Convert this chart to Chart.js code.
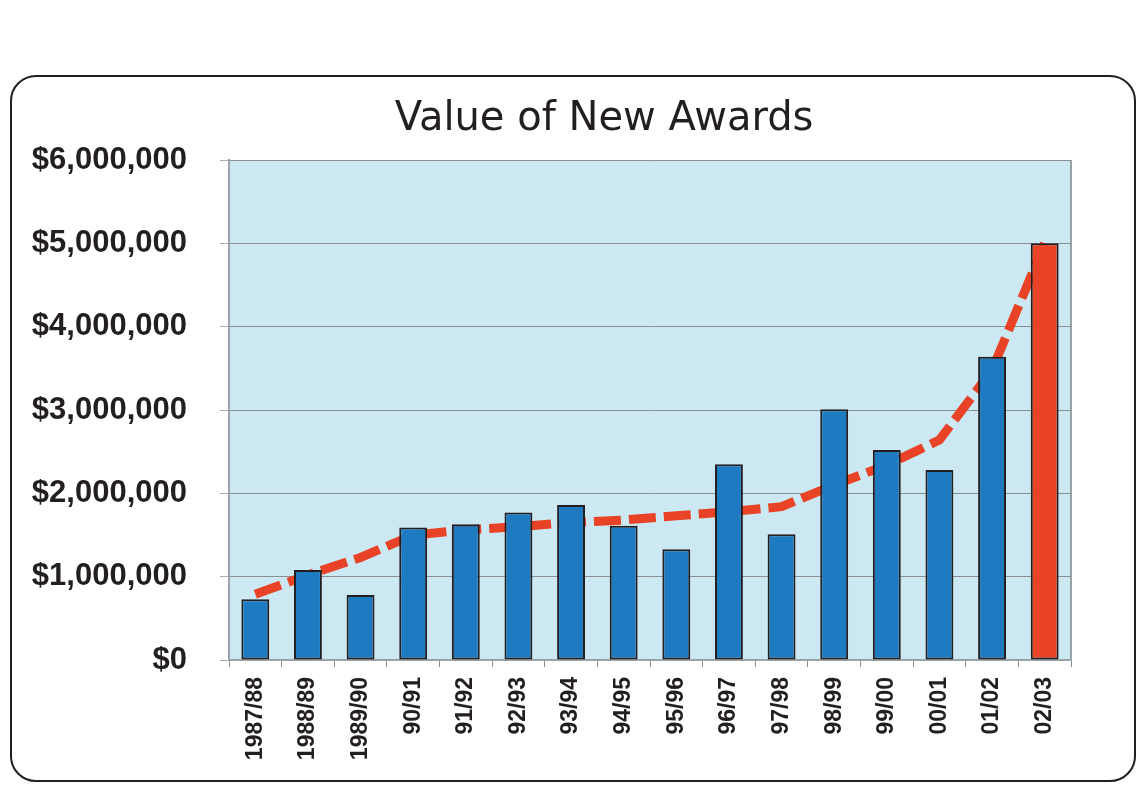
<!DOCTYPE html>
<html>
<head>
<meta charset="utf-8">
<script src="https://cdn.jsdelivr.net/npm/chart.js@4.4.1/dist/chart.umd.min.js"></script>
<style>
  html, body { margin: 0; padding: 0; background: #fff; }
  #frame {
    position: absolute; left: 10px; top: 75px;
    width: 1122px; height: 703px;
    border: 2.5px solid #231f20; border-radius: 26px;
  }
  #wrap { position: absolute; left: 0; top: 0; width: 1145px; height: 790px; }
</style>
</head>
<body>
<div id="frame"></div>
<div id="wrap"><canvas id="awardsChart" width="1145" height="790"></canvas></div>
<script>
// fiscal years
var years = ['1987/88', '1988/89', '1989/90', '90/91', '91/92', '92/93', '93/94', '94/95',
             '95/96', '96/97', '97/98', '98/99', '99/00', '00/01', '01/02', '02/03'];

// value of new awards (bars)
var awardValues = [730000, 1080000, 780000, 1590000, 1630000, 1770000, 1860000, 1610000,
                   1330000, 2350000, 1510000, 3010000, 2520000, 2280000, 3640000, 5000000];

// trend line (dashed red)
var trendValues = [790000, 1020000, 1230000, 1500000, 1560000, 1600000, 1650000, 1680000,
                   1730000, 1780000, 1840000, 2100000, 2340000, 2640000, 3480000, 5000000];

var yTicks = [0, 1000000, 2000000, 3000000, 4000000, 5000000, 6000000];

var chartTitle = 'Value of New Awards';

var blue = '#1f7bc1';
var red = '#e84327';

var barColors = years.map(function(y, i) {
    return i === years.length - 1 ? red : blue;
});

// light blue plot background, right edge of the plot, and the title
var plotBg = {
    id: 'plotBg',
    beforeDraw: function(chart) {
        var a = chart.chartArea;
        var ctx = chart.ctx;
        ctx.save();
        ctx.fillStyle = '#cce8f2';
        ctx.fillRect(a.left, a.top, a.right - a.left, a.bottom - a.top);
        ctx.strokeStyle = '#9aa3a8';
        ctx.lineWidth = 2;
        ctx.beginPath();
        ctx.moveTo(a.right, a.top);
        ctx.lineTo(a.right, a.bottom);
        ctx.stroke();

        ctx.fillStyle = '#231f20';
        ctx.font = '40px "DejaVu Sans", sans-serif';
        ctx.textAlign = 'center';
        ctx.textBaseline = 'middle';
        ctx.fillText(chartTitle, 604, 120);
        ctx.restore();
    }
};

new Chart(document.getElementById('awardsChart'), {
    type: 'bar',
    data: {
        labels: years,
        datasets: [
            {
                type: 'bar',
                data: awardValues,
                backgroundColor: barColors,
                borderColor: '#231f20',
                borderWidth: 2,
                borderSkipped: false,
                categoryPercentage: 1,
                barPercentage: 0.53,
                order: 1
            },
            {
                type: 'line',
                data: trendValues,
                borderColor: red,
                borderWidth: 9,
                borderDash: [27, 8],
                borderCapStyle: 'butt',
                pointRadius: 0,
                tension: 0,
                fill: false,
                order: 2
            }
        ]
    },
    options: {
        responsive: false,
        animation: false,
        layout: { padding: { left: 0, right: 74, top: 160, bottom: 0 } },
        plugins: {
            legend: { display: false },
            tooltip: { enabled: false },
            title: { display: false }
        },
        scales: {
            x: {
                grid: { display: true, drawOnChartArea: false, drawTicks: true, tickLength: 7, color: '#8a8f92', offset: true },
                border: { display: true, color: '#9aa3a8', width: 2 },
                ticks: {
                    color: '#231f20',
                    minRotation: 90,
                    maxRotation: 90,
                    padding: 10,
                    autoSkip: false,
                    font: { family: 'Liberation Sans, Arial, sans-serif', size: 23, weight: 'bold' }
                },
                afterFit: function(scale) { scale.height = 130; }
            },
            y: {
                min: 0,
                max: 6000000,
                afterBuildTicks: function(scale) {
                    scale.ticks = yTicks.map(function(v) { return { value: v }; });
                },
                grid: { color: '#8a8f92', lineWidth: 1, tickLength: 9, tickColor: '#a8adb0' },
                border: { display: true, color: '#9aa3a8', width: 2 },
                ticks: {
                    color: '#231f20',
                    padding: 33,
                    font: { family: 'Liberation Sans, Arial, sans-serif', size: 31, weight: 'bold' },
                    callback: function(v) { return '$' + v.toLocaleString('en-US'); }
                },
                afterFit: function(scale) { scale.width = 229; }
            }
        }
    },
    plugins: [plotBg]
});
</script>
</body>
</html>
